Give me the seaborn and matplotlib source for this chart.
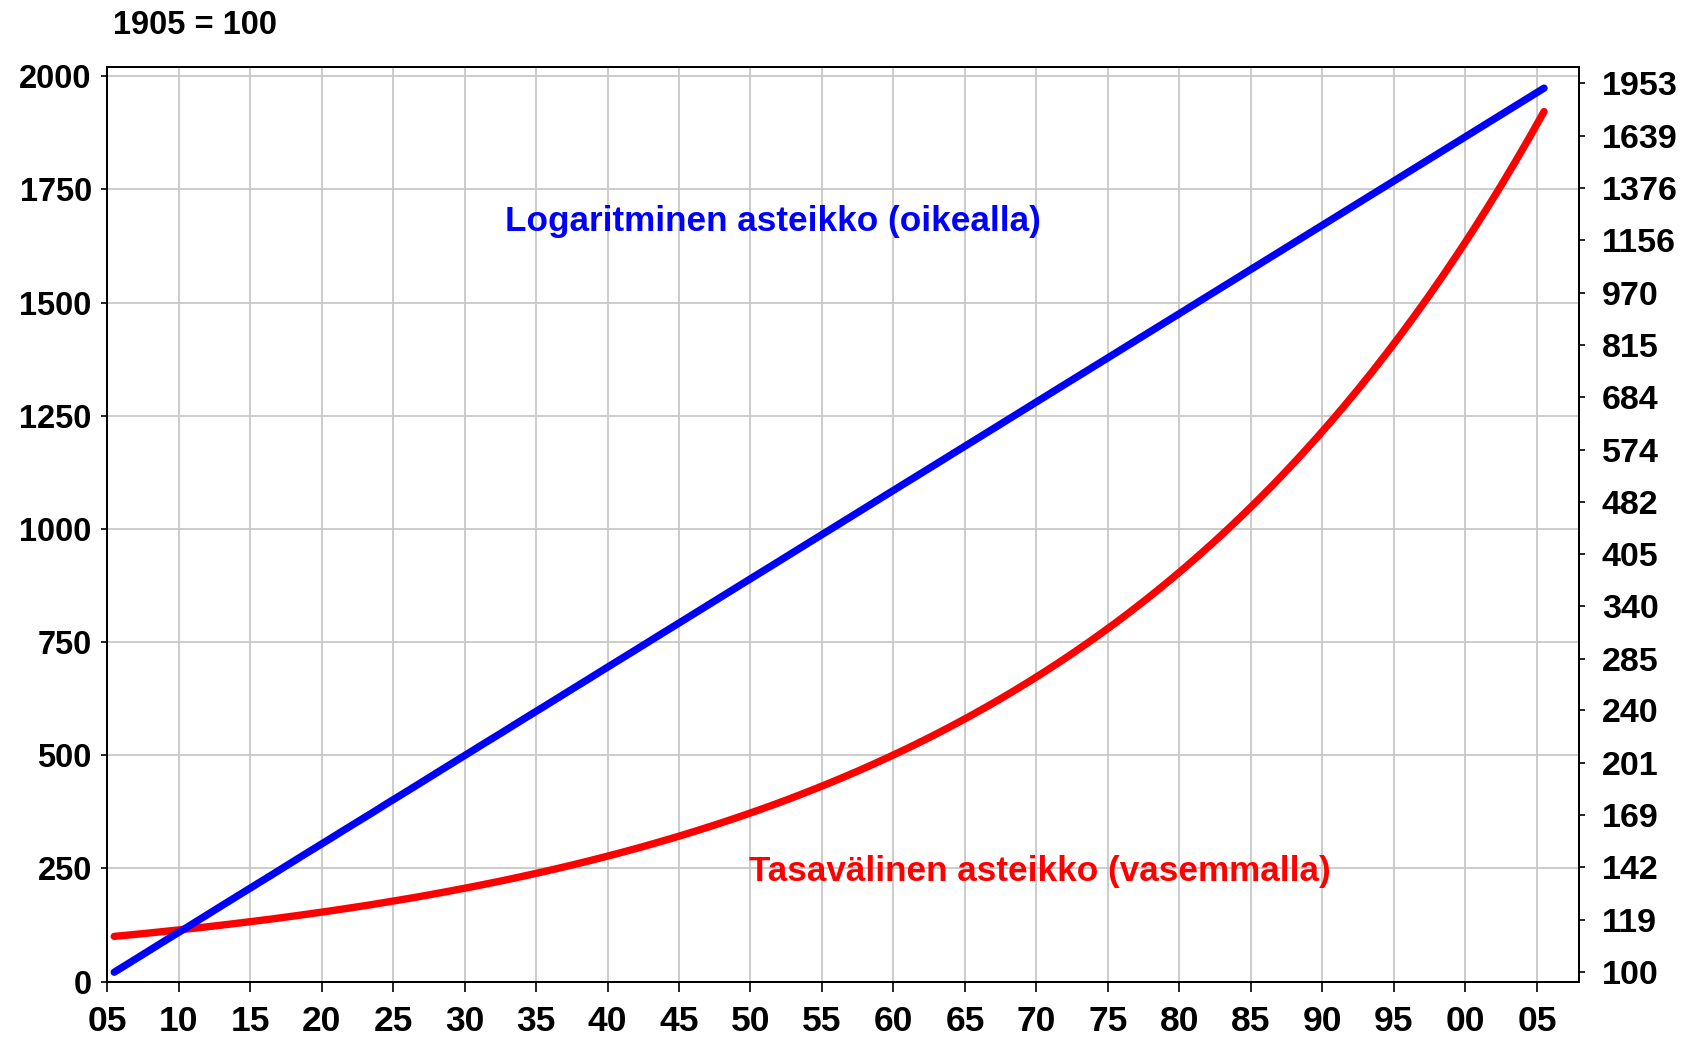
import numpy as np
import pandas as pd
import matplotlib
matplotlib.use('Agg')
import matplotlib.pyplot as plt
import seaborn as sns

# Index values (1905 = 100), one per year
years = list(range(1905, 2006))
index_values = [
    100.0, 103.0, 106.1, 109.3, 112.6, 115.9, 119.4, 123.0, 126.7, 130.5,
    134.4, 138.4, 142.6, 146.9, 151.3, 155.8, 160.5, 165.3, 170.2, 175.4,
    180.6, 186.0, 191.6, 197.4, 203.3, 209.4, 215.7, 222.1, 228.8, 235.7,
    242.7, 250.0, 257.5, 265.2, 273.2, 281.4, 289.8, 298.5, 307.5, 316.7,
    326.2, 336.0, 346.1, 356.5, 367.2, 378.2, 389.5, 401.2, 413.3, 425.7,
    438.4, 451.6, 465.1, 479.1, 493.5, 508.3, 523.5, 539.2, 555.4, 572.1,
    589.2, 606.9, 625.1, 643.9, 663.2, 683.1, 703.6, 724.7, 746.4, 768.8,
    791.8, 815.6, 840.1, 865.3, 891.2, 917.9, 945.5, 973.8, 1003.0, 1033.1,
    1064.1, 1096.0, 1128.9, 1162.8, 1197.7, 1233.6, 1270.6, 1308.7, 1348.0, 1388.4,
    1430.1, 1473.0, 1517.2, 1562.7, 1609.6, 1657.8, 1707.6, 1758.8, 1811.6, 1865.9,
    1921.9]

left_ticks = [0, 250, 500, 750, 1000, 1250, 1500, 1750, 2000]
right_ticks = [100, 119, 142, 169, 201, 240, 285, 340, 405, 482, 574,
               684, 815, 970, 1156, 1376, 1639, 1953]
x_ticks = list(range(1905, 2006, 5))
x_labels = ['%02d' % (y % 100) for y in x_ticks]

df = pd.DataFrame({'year': years, 'value': index_values})
df['x'] = df['year'] + 0.5

sns.set_style('white')
plt.rcParams['font.family'] = ['Liberation Sans', 'DejaVu Sans']
plt.rcParams['font.weight'] = 'bold'
plt.rcParams['text.color'] = 'black'
plt.rcParams['xtick.color'] = 'black'
plt.rcParams['ytick.color'] = 'black'
plt.rcParams['xtick.labelcolor'] = 'black'
plt.rcParams['ytick.labelcolor'] = 'black'

fig = plt.figure(figsize=(16.97, 10.41), dpi=100)
ax = fig.add_axes([0.0631, 0.0570, 0.8674, 0.8789])
ax2 = ax.twinx()

# linear scale (left)
sns.lineplot(data=df, x='x', y='value', ax=ax, color='#ff0000', linewidth=5.3,
             solid_capstyle='round', zorder=3)
# log scale (right)
sns.lineplot(data=df, x='x', y='value', ax=ax2, color='#0000ff', linewidth=5.3,
             solid_capstyle='round', zorder=3)

ax.set_xlim(1905, 2007.95)
ax.set_ylim(0, 2021)
ax2.set_yscale('log')
ax2.set_ylim(96.9, 2064.6)

ax.set_xticks(x_ticks)
ax.set_xticklabels(x_labels)
ax.set_yticks(left_ticks)
ax.set_yticklabels([str(v) for v in left_ticks])
ax2.set_yticks(right_ticks)
ax2.set_yticklabels([str(v) for v in right_ticks])
ax2.yaxis.set_minor_locator(matplotlib.ticker.NullLocator())

ax.grid(True, color='#c8c8c8', linewidth=1.3)
ax2.grid(False)
ax.set_axisbelow(True)
ax.set_xlabel('')
ax.set_ylabel('')
ax2.set_ylabel('')

ax.tick_params(axis='x', direction='out', length=7, width=1.2, pad=10,
               labelsize=25.5, bottom=True)
ax.tick_params(axis='y', direction='out', length=4, width=1.2, pad=7,
               labelsize=23.5, left=True)
ax2.tick_params(axis='y', direction='out', length=4.5, width=1.2, pad=12,
                labelsize=24.5, right=True)
for a in (ax, ax2):
    for s in a.spines.values():
        s.set_color('black')
        s.set_linewidth(1.3)
    for lab in a.get_xticklabels() + a.get_yticklabels():
        lab.set_fontweight('bold')
        lab.set_color('black')

ax.text(0.4555, 1 - 222 / 1041, 'Logaritminen asteikko (oikealla)',
        transform=fig.transFigure, color='#0000ff', fontsize=25.3,
        fontweight='bold', ha='center', va='center')
ax.text(0.6128, 1 - 871 / 1041, 'Tasavälinen asteikko (vasemmalla)',
        transform=fig.transFigure, color='#ff0000', fontsize=25.3,
        fontweight='bold', ha='center', va='center')

fig.text(113 / 1697, 1 - 25 / 1041, '1905 = 100', fontsize=23.5,
         fontweight='bold', ha='left', va='center', color='black')

fig.savefig('out.png', dpi=100)
